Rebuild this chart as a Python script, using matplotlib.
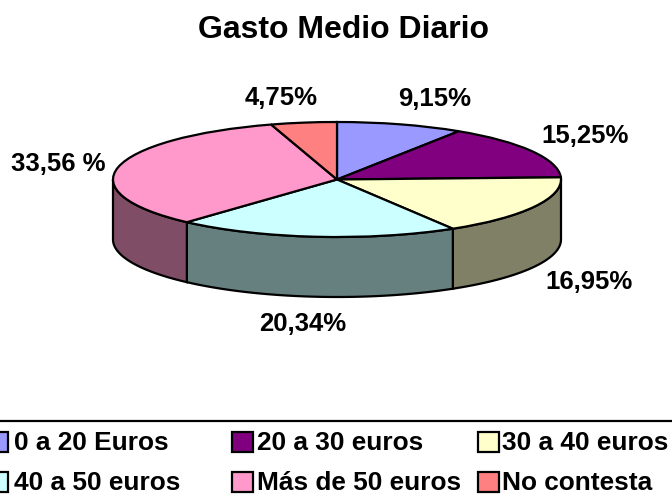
import matplotlib
matplotlib.use("Agg")
import matplotlib.pyplot as plt
import matplotlib.colors as mcolors
from matplotlib.patches import Rectangle
import numpy as np

plt.rcParams['font.family'] = ['Liberation Sans', 'DejaVu Sans']

categories = ['0 a 20 Euros', '20 a 30 euros', '30 a 40 euros',
              '40 a 50 euros', 'Más de 50 euros', 'No contesta']
values = [9.15, 15.25, 16.95, 20.34, 33.56, 4.75]
value_labels = ['9,15%', '15,25%', '16,95%', '20,34%', '33,56 %', '4,75%']
colors = ['#9999FF', '#800080', '#FFFFCC', '#CCFFFF', '#FF99CC', '#FF8080']

W, H = 672, 504
cx, cy = 337, 179.5   # pie centre in pixels
rx, ry = 224, 57.5
depth = 60 / ry

fig = plt.figure(figsize=(W / 100, H / 100), dpi=100)

# unit axes for the pie, squashed so the circle becomes the ellipse
ax = fig.add_axes([0, 0, 1, 1])
ax.set_axis_off()

# walls first, only the part of each slice facing the viewer
total = sum(values)
start = 90.0
for v, c in zip(values, colors):
    end = start - v / total * 360
    # front of the pie is between 0 and -180 deg
    lo, hi = max(end, -180), min(start, 0)
    if hi > lo:
        t = np.radians(np.linspace(lo, hi, 60))
        x = np.cos(t)
        y = np.sin(t)
        wall = tuple(k * 0.5 for k in mcolors.to_rgb(c))
        ax.fill(np.r_[x, x[::-1]], np.r_[y, y[::-1] - depth],
                facecolor=wall, edgecolor='black', lw=1.6, zorder=1)
    start = end

ax.pie(values, colors=colors, startangle=90, counterclock=False, radius=1,
       wedgeprops={'edgecolor': 'black', 'linewidth': 1.6, 'zorder': 2})
ax.set_aspect('auto')
ax.set_xlim(-cx / rx, (W - cx) / rx)
ax.set_ylim((cy - H) / ry, cy / ry)

# overlay in pixels for title, labels and legend
ov = fig.add_axes([0, 0, 1, 1], facecolor='none')
ov.set_axis_off()
ov.set_xlim(0, W)
ov.set_ylim(H, 0)

ov.text(343, 30, 'Gasto Medio Diario', ha='center', va='center',
        fontsize=23, fontweight='bold')

label_pos = [(435, 99), (585, 136), (589, 282), (303, 324), (58, 164), (281, 98)]
for s, (px, py) in zip(value_labels, label_pos):
    ov.text(px, py, s, ha='center', va='center', fontsize=18.5, fontweight='bold')

# legend, its frame runs off the image on the sides
ov.plot([0, W], [421, 421], color='black', lw=1.6)
box_x = [-13, 232, 478]
text_x = [14, 257, 502]
row_y = [443, 483]
for i, (name, c) in enumerate(zip(categories, colors)):
    by = row_y[i // 3]
    ov.add_patch(Rectangle((box_x[i % 3], by - 11), 21, 20, facecolor=c, edgecolor='black', lw=1.6))
    ov.text(text_x[i % 3], by, name, ha='left', va='center', fontsize=18.9, fontweight='bold')

fig.savefig('out.png', dpi=100)
